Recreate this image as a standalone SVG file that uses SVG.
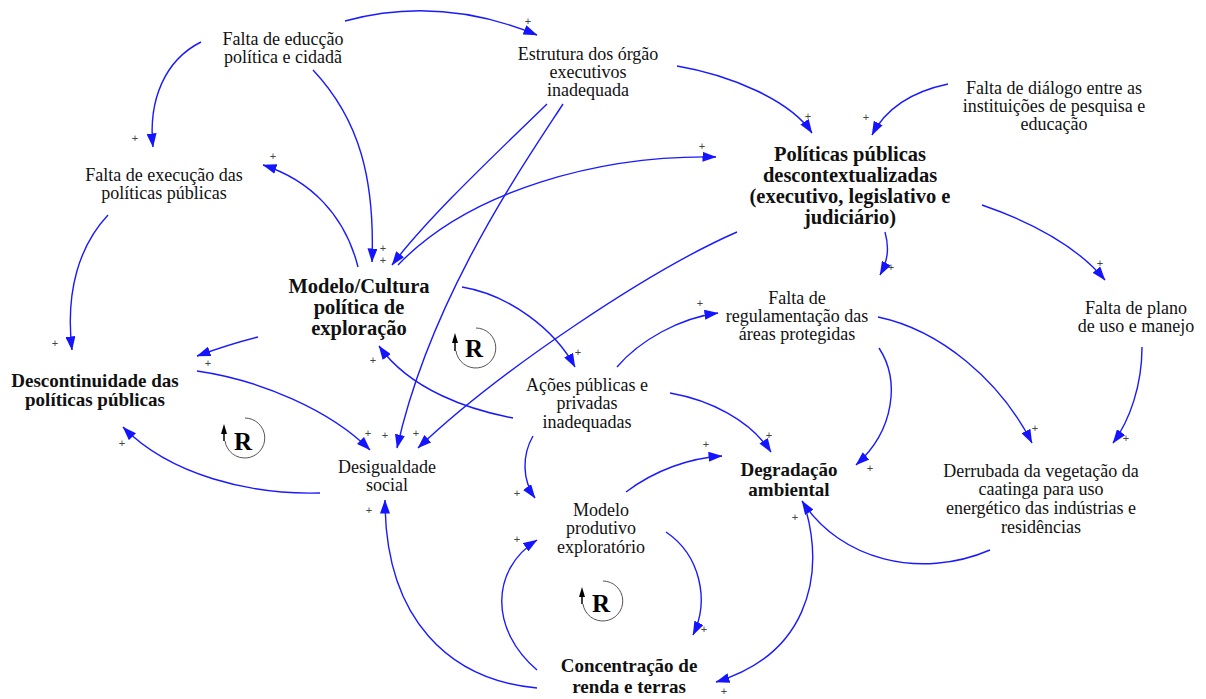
<svg xmlns="http://www.w3.org/2000/svg" width="1206" height="699" viewBox="0 0 1206 699">
<defs>
<marker id="ah" markerUnits="userSpaceOnUse" viewBox="0 0 14 10" markerWidth="14" markerHeight="10" refX="13.5" refY="5" orient="auto">
<path d="M0,0 L14,5 L0,10 z" fill="#1414ff"/>
</marker>
<style>
.t{font-family:"Liberation Serif","Times New Roman",serif;font-size:18px;fill:#111;text-anchor:middle}
.b{font-weight:bold;font-size:19px}
.bl{font-weight:bold;font-size:20.5px}
.c{fill:none;stroke:#1a1aff;stroke-width:1.4;marker-end:url(#ah)}
.p{font-family:"Liberation Sans",Arial,sans-serif;font-size:11px;fill:#444;text-anchor:middle;dominant-baseline:central}
.la{fill:none;stroke:#555;stroke-width:1}
.lr{font-family:"Liberation Serif","Times New Roman",serif;font-weight:bold;font-size:25px;fill:#000;text-anchor:middle}
</style>
</defs>
<rect width="1206" height="699" fill="#fff"/>

<g id="connectors">
<path class="c" d="M345,21 Q440,-5 537,35"/>
<path class="c" d="M201,42 C165,60 148,100 153,147"/>
<path class="c" d="M313,70 C360,120 375,180 372,262"/>
<path class="c" d="M358,267 C345,215 310,180 263,165"/>
<path class="c" d="M547,104 C500,150 430,215 392,265"/>
<path class="c" d="M563,104 C520,170 430,300 397,448"/>
<path class="c" d="M398,265 C470,190 600,155 716,157"/>
<path class="c" d="M462,287 C510,295 555,330 575,367"/>
<path class="c" d="M513,418 C470,410 410,390 379,346"/>
<path class="c" d="M677,66 C730,75 790,100 812,133"/>
<path class="c" d="M948,84 C910,92 885,110 872,135"/>
<path class="c" d="M885,232 C890,250 887,262 880,275"/>
<path class="c" d="M982,205 C1040,225 1080,250 1105,280"/>
<path class="c" d="M737,232 C650,270 500,370 418,448"/>
<path class="c" d="M258,337 Q230,344 197,356"/>
<path class="c" d="M108,215 C80,245 65,290 72,350"/>
<path class="c" d="M197,371 C260,380 330,410 370,450"/>
<path class="c" d="M320,493 C250,495 170,475 123,427"/>
<path class="c" d="M537,688 C450,680 385,620 385,500"/>
<path class="c" d="M533,436 C522,455 522,480 535,498"/>
<path class="c" d="M537,670 C490,630 490,570 537,540"/>
<path class="c" d="M666,532 C700,555 710,600 693,635"/>
<path class="c" d="M626,492 C655,470 690,458 722,456"/>
<path class="c" d="M670,393 C710,400 750,420 771,452"/>
<path class="c" d="M879,348 C900,380 895,430 856,465"/>
<path class="c" d="M617,367 C640,340 680,318 718,313"/>
<path class="c" d="M878,317 C940,330 1000,380 1032,443"/>
<path class="c" d="M1142,347 C1142,385 1130,420 1113,443"/>
<path class="c" d="M990,550 C920,580 840,560 802,501"/>
<path class="c" d="M806,510 C825,580 805,655 716,682"/>
</g>

<g id="polarities">
<text class="p" x="528" y="21">+</text>
<text class="p" x="135" y="138">+</text>
<text class="p" x="383" y="248">+</text>
<text class="p" x="383" y="260">+</text>
<text class="p" x="273" y="156">+</text>
<text class="p" x="702" y="146">+</text>
<text class="p" x="578" y="352">+</text>
<text class="p" x="373" y="360">+</text>
<text class="p" x="808" y="116">+</text>
<text class="p" x="866" y="117">+</text>
<text class="p" x="891" y="267">+</text>
<text class="p" x="1100" y="263">+</text>
<text class="p" x="416" y="433">+</text>
<text class="p" x="385" y="435">+</text>
<text class="p" x="368" y="433">+</text>
<text class="p" x="208" y="363">+</text>
<text class="p" x="55" y="343">+</text>
<text class="p" x="122" y="443">+</text>
<text class="p" x="369" y="510">+</text>
<text class="p" x="517" y="493">+</text>
<text class="p" x="517" y="539">+</text>
<text class="p" x="704" y="629">+</text>
<text class="p" x="706" y="444">+</text>
<text class="p" x="769" y="435">+</text>
<text class="p" x="870" y="468">+</text>
<text class="p" x="700" y="303">+</text>
<text class="p" x="1035" y="428">+</text>
<text class="p" x="1126" y="438">+</text>
<text class="p" x="795" y="517">+</text>
<text class="p" x="724" y="691">+</text>
</g>

<g id="n-educacao"><text class="t" x="283" y="45">Falta de educção</text><text class="t" x="283" y="63">política e cidadã</text></g>
<g id="n-estrutura"><text class="t" x="588" y="60">Estrutura dos órgão</text><text class="t" x="588" y="78">executivos</text><text class="t" x="588" y="96">inadequada</text></g>
<g id="n-dialogo"><text class="t" x="1054" y="94">Falta de diálogo entre as</text><text class="t" x="1054" y="112">instituições de pesquisa e</text><text class="t" x="1054" y="130">educação</text></g>
<g id="n-politicas"><text class="t bl" x="850" y="161">Políticas públicas</text><text class="t bl" x="850" y="182">descontextualizadas</text><text class="t bl" x="850" y="203">(executivo, legislativo e</text><text class="t bl" x="850" y="224">judiciário)</text></g>
<g id="n-modelo-cultura"><text class="t bl" x="359" y="293">Modelo/Cultura</text><text class="t bl" x="359" y="314">política de</text><text class="t bl" x="359" y="335">exploração</text></g>
<g id="n-execucao"><text class="t" x="164" y="181">Falta de execução das</text><text class="t" x="164" y="199">políticas públicas</text></g>
<g id="n-descontinuidade"><text class="t b" x="95" y="387">Descontinuidade das</text><text class="t b" x="95" y="406">políticas públicas</text></g>
<g id="n-desigualdade"><text class="t" x="387" y="473">Desigualdade</text><text class="t" x="387" y="491">social</text></g>
<g id="n-acoes"><text class="t" x="587" y="391">Ações públicas e</text><text class="t" x="587" y="409">privadas</text><text class="t" x="587" y="428">inadequadas</text></g>
<g id="n-regulamentacao"><text class="t" x="797" y="304">Falta de</text><text class="t" x="797" y="322">regulamentação das</text><text class="t" x="797" y="340">áreas protegidas</text></g>
<g id="n-plano"><text class="t" x="1136" y="314">Falta de plano</text><text class="t" x="1136" y="332">de uso e manejo</text></g>
<g id="n-degradacao"><text class="t b" x="789" y="476">Degradação</text><text class="t b" x="789" y="496">ambiental</text></g>
<g id="n-derrubada"><text class="t" x="1041" y="477">Derrubada da vegetação da</text><text class="t" x="1041" y="495">caatinga para uso</text><text class="t" x="1041" y="514">energético das indústrias e</text><text class="t" x="1041" y="533">residências</text></g>
<g id="n-modelo-produtivo"><text class="t" x="601" y="516">Modelo</text><text class="t" x="601" y="534">produtivo</text><text class="t" x="601" y="553">exploratório</text></g>
<g id="n-concentracao"><text class="t b" x="629" y="672">Concentração de</text><text class="t b" x="629" y="693">renda e terras</text></g>

<g id="loop-r1">
<path class="la" d="M476,328 A20,20 0 1 1 456,351"/>
<path d="M455,351 L455,342" stroke="#000" stroke-width="1.5"/>
<path d="M455,333 L452,343 L458,343 z" fill="#000"/>
<text class="lr" x="474" y="357">R</text>
</g>
<g id="loop-r2">
<path class="la" d="M245,418 A20,20 0 1 1 225,441"/>
<path d="M224,441 L224,433" stroke="#000" stroke-width="1.5"/>
<path d="M224,424 L221,434 L227,434 z" fill="#000"/>
<text class="lr" x="243" y="450">R</text>
</g>
<g id="loop-r3">
<path class="la" d="M603,581 A20,20 0 1 1 583,604"/>
<path d="M582,604 L582,596" stroke="#000" stroke-width="1.5"/>
<path d="M582,587 L579,597 L585,597 z" fill="#000"/>
<text class="lr" x="601" y="612">R</text>
</g>
</svg>
